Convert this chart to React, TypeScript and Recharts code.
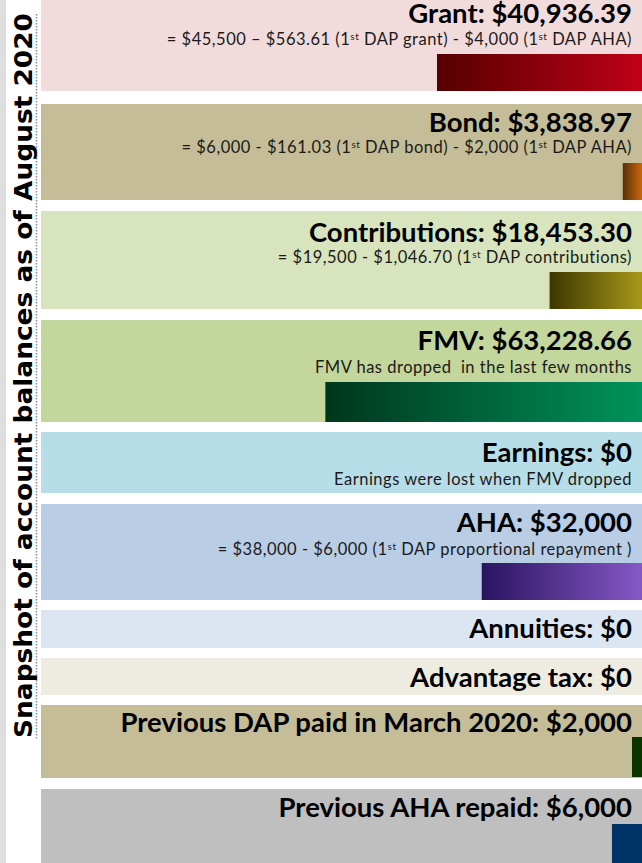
import React from 'react';
import { BarChart, Bar, XAxis, YAxis } from 'recharts';

const CATEGORIES = ['Grant', 'Bond', 'Contributions', 'FMV', 'Earnings', 'AHA', 'Annuities', 'Advantage tax', 'Previous DAP paid in March 2020', 'Previous AHA repaid'];
const VALUES = [40936.39, 3838.97, 18453.3, 63228.66, 0, 32000, 0, 0, 2000, 6000];
const VALUE_LABELS = ['$40,936.39', '$3,838.97', '$18,453.30', '$63,228.66', '$0', '$32,000', '$0', '$0', '$2,000', '$6,000'];
const NOTES = [
  '= $45,500 \u2013 $563.61 (1^st DAP grant) - $4,000 (1^st DAP AHA)',
  '= $6,000 - $161.03 (1^st DAP bond) - $2,000 (1^st DAP AHA)',
  '= $19,500 - $1,046.70 (1^st DAP contributions)',
  'FMV has dropped  in the last few months',
  'Earnings were lost when FMV dropped',
  '= $38,000 - $6,000 (1^st DAP proportional repayment )',
  '',
  '',
  '',
  '',
];
const TITLE = 'Snapshot of account balances as of August 2020';
const X_MAX = 120000;

const ROW_BG = ['#f2dcdb', '#c4bd97', '#d7e4bd', '#c3d69b', '#b7dee8', '#b9cde5', '#dce6f2', '#eeece1', '#c4bd97', '#bfbfbf'];
const BAR_GRAD = [
  ['#560000', '#bf0018'],
  ['#5a3008', '#c8660c'],
  ['#3c3600', '#a8981a'],
  ['#00361c', '#00925c'],
  ['#000000', '#000000'],
  ['#2a1460', '#8658c6'],
  ['#000000', '#000000'],
  ['#000000', '#000000'],
  ['#0a3300', '#0a3300'],
  ['#003366', '#003366'],
];

const LAYOUT = [
  { top: 0, h: 91, barTop: 54, barH: 37, titleY: 22.5, subY: 44.5 },
  { top: 104, h: 96, barTop: 163, barH: 37, titleY: 131.5, subY: 153 },
  { top: 211, h: 98, barTop: 272, barH: 37, titleY: 241.5, subY: 263 },
  { top: 320, h: 102, barTop: 382, barH: 40, titleY: 350, subY: 373 },
  { top: 432, h: 61, barTop: 493, barH: 0, titleY: 461.5, subY: 485 },
  { top: 504, h: 96, barTop: 563, barH: 37, titleY: 531.5, subY: 555 },
  { top: 610, h: 38, barTop: 648, barH: 0, titleY: 638, subY: 0 },
  { top: 658, h: 37, barTop: 695, barH: 0, titleY: 687, subY: 0 },
  { top: 705, h: 73, barTop: 737, barH: 40, titleY: 731.5, subY: 0 },
  { top: 789, h: 74, barTop: 824, barH: 39, titleY: 816.5, subY: 0 },
];

const ROW_LEFT = 41;
const ROW_W = 601;
const TEXT_RIGHT = 632;

function Note({ text, y }: { text: string; y: number }) {
  const parts = text.split('^st');
  const kids: React.ReactNode[] = [];
  parts.forEach((p, i) => {
    kids.push(
      <tspan key={'p' + i} dy={i > 0 ? 5 : 0}>{p}</tspan>
    );
    if (i < parts.length - 1) {
      kids.push(
        <tspan key={'s' + i} fontSize={10} dy={-5}>st</tspan>
      );
    }
  });
  return (
    <text x={TEXT_RIGHT} y={y} textAnchor="end" fontFamily="Lato" fontSize={16.5} letterSpacing={0.5} fill="#1a1a1a" style={{ whiteSpace: 'pre' }}>
      {kids}
    </text>
  );
}

function Row({ i }: { i: number }) {
  const L = LAYOUT[i];
  const data = [{ name: CATEGORIES[i], value: VALUES[i] }];
  const barBottom = L.barTop + L.barH;
  const mTop = L.barH > 0 ? L.barTop - L.top : L.h - 1;
  const mBottom = L.barH > 0 ? L.top + L.h - barBottom : 0;
  return (
    <div style={{ position: 'absolute', left: ROW_LEFT, top: L.top, width: ROW_W, height: L.h, background: ROW_BG[i] }}>
      <BarChart width={ROW_W} height={L.h} data={data} layout="vertical" margin={{ top: mTop, bottom: mBottom, left: 0, right: 0 }} barCategoryGap={0}>
        <defs>
          <linearGradient id={'grad' + i} x1="0" y1="0" x2="1" y2="0">
            <stop offset="0%" stopColor={BAR_GRAD[i][0]} />
            <stop offset="100%" stopColor={BAR_GRAD[i][1]} />
          </linearGradient>
        </defs>
        <XAxis type="number" domain={[0, X_MAX]} reversed hide />
        <YAxis type="category" dataKey="name" hide />
        <Bar dataKey="value" fill={'url(#grad' + i + ')'} isAnimationActive={false} />
      </BarChart>
    </div>
  );
}

export default function App() {
  return (
    <div style={{ position: 'absolute', left: 0, top: 0, width: 642, height: 863, background: '#ffffff', overflow: 'hidden' }}>
      <div style={{ position: 'absolute', left: 0, top: 0, width: 6, height: 863, background: '#dedede' }} />
      {CATEGORIES.map((_, i) => (
        <Row key={i} i={i} />
      ))}
      <svg width={642} height={863} style={{ position: 'absolute', left: 0, top: 0, pointerEvents: 'none' }}>
        <line x1={36.5} y1={14} x2={36.5} y2={740} stroke="#8c8c8c" strokeWidth={1.5} strokeDasharray="1.5 1.5" />
        <g transform="translate(31.5, 375.5) rotate(-90)">
          <text x={0} y={0} textAnchor="middle" fontFamily="DejaVu Sans" fontWeight="bold" fontSize={25} fill="#000" textLength={725} lengthAdjust="spacingAndGlyphs">
            {TITLE}
          </text>
        </g>
        {CATEGORIES.map((c, i) => (
          <text key={'t' + i} x={TEXT_RIGHT} y={LAYOUT[i].titleY} textAnchor="end" fontFamily="Lato" fontWeight="bold" fontSize={27.5} fill="#000">
            {c + ': ' + VALUE_LABELS[i]}
          </text>
        ))}
        {NOTES.map((n, i) => (n ? <Note key={'n' + i} text={n} y={LAYOUT[i].subY} /> : null))}
      </svg>
    </div>
  );
}
